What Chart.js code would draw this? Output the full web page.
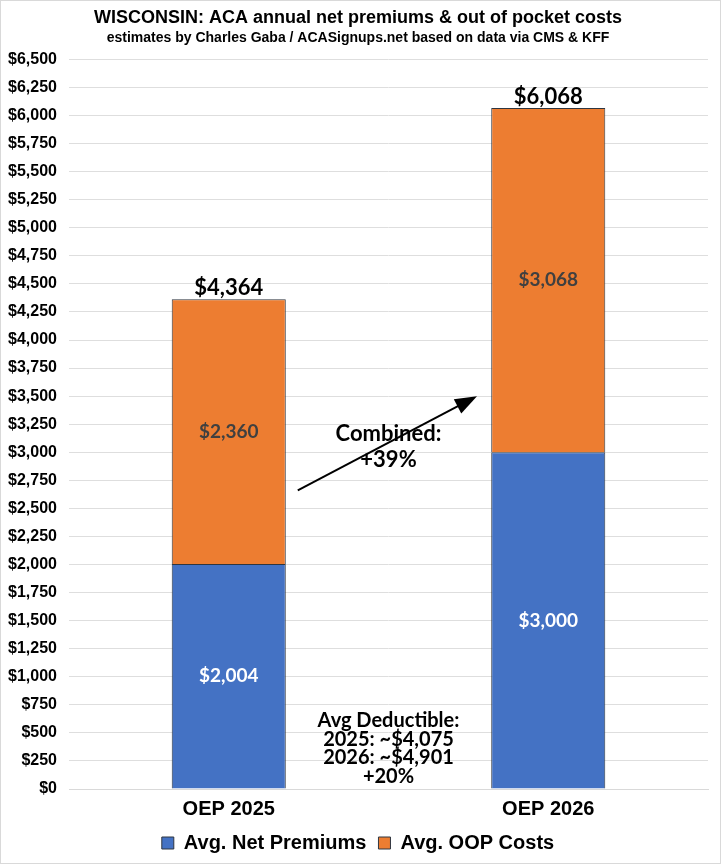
<!DOCTYPE html>
<html>
<head>
<meta charset="utf-8">
<script src="https://cdn.jsdelivr.net/npm/chart.js@4.4.1/dist/chart.umd.min.js"></script>
<style>
  html, body { margin: 0; padding: 0; background: #fff; }
  #wrap { width: 719px; height: 862px; border: 1px solid #d9d9d9; }
</style>
</head>
<body>
<div id="wrap"><canvas id="chart"></canvas></div>
<script>
const categories = ["OEP 2025", "OEP 2026"];
const netPremiums = [2004, 3000];
const oopCosts = [2360, 3068];
const totals = [4364, 6068];
const deductibleNote = ["Avg Deductible:", "2025: ~$4,075", "2026: ~$4,901", "+20%"];
const combinedNote = ["Combined:", "+39%"];

const narrow = "'Liberation Sans Narrow', 'Arial Narrow', 'Liberation Sans', sans-serif";
const labelFont = "Lato, 'Open Sans', sans-serif";

// Text on bars, totals, the arrow and the notes
const annotations = {
    id: "annotations",
    afterDatasetsDraw(chart) {
        const ctx = chart.ctx;
        const x = chart.scales.x;
        const y = chart.scales.y;
        ctx.save();
        ctx.textAlign = "center";
        ctx.textBaseline = "middle";

        chart.data.datasets.forEach((ds, di) => {
            const meta = chart.getDatasetMeta(di);
            meta.data.forEach((bar, i) => {
                const mid = (bar.y + bar.base) / 2;
                ctx.fillStyle = di === 0 ? "#ffffff" : "#404040";
                ctx.font = "bold 19px " + labelFont;
                ctx.fillText("$" + ds.data[i].toLocaleString("en-US"), bar.x, mid);
            });
        });

        // totals above each bar
        ctx.fillStyle = "#000";
        ctx.font = "bold 22px " + labelFont;
        totals.forEach((t, i) => {
            ctx.fillText("$" + t.toLocaleString("en-US"), x.getPixelForValue(i), y.getPixelForValue(t) - 11);
        });

        // arrow between bars
        const x0 = x.getPixelForValue(0.216), y0 = y.getPixelForValue(2660);
        const x1 = x.getPixelForValue(0.777), y1 = y.getPixelForValue(3500);
        const ang = Math.atan2(y1 - y0, x1 - x0);
        ctx.strokeStyle = "#000";
        ctx.lineWidth = 2;
        ctx.beginPath();
        ctx.moveTo(x0, y0);
        ctx.lineTo(x1 - 14 * Math.cos(ang), y1 - 14 * Math.sin(ang));
        ctx.stroke();
        ctx.beginPath();
        ctx.moveTo(x1, y1);
        ctx.lineTo(x1 - 22 * Math.cos(ang) + 8 * Math.sin(ang), y1 - 22 * Math.sin(ang) - 8 * Math.cos(ang));
        ctx.lineTo(x1 - 22 * Math.cos(ang) - 8 * Math.sin(ang), y1 - 22 * Math.sin(ang) + 8 * Math.cos(ang));
        ctx.closePath();
        ctx.fillStyle = "#000";
        ctx.fill();

        ctx.font = "bold 22px " + labelFont;
        const cx = x.getPixelForValue(0.5);
        combinedNote.forEach((line, k) => {
            ctx.fillText(line, cx, y.getPixelForValue(3162) + k * 26);
        });

        ctx.font = "bold 20px " + labelFont;
        deductibleNote.forEach((line, k) => {
            ctx.fillText(line, cx, y.getPixelForValue(612) + k * 18.8);
        });
        ctx.restore();
    }
};

new Chart(document.getElementById("chart"), {
    type: "bar",
    data: {
        labels: categories,
        datasets: [
            {
                label: "Avg. Net Premiums",
                data: netPremiums,
                backgroundColor: "#4472c4",
                borderColor: "#2f3640",
                borderWidth: 1,
                categoryPercentage: 1,
                barPercentage: 0.357
            },
            {
                label: "Avg. OOP Costs",
                data: oopCosts,
                backgroundColor: "#ed7d31",
                borderColor: "#2f3640",
                borderWidth: 1,
                categoryPercentage: 1,
                barPercentage: 0.357
            }
        ]
    },
    options: {
        responsive: true,
        maintainAspectRatio: false,
        animation: false,
        layout: { padding: { left: 7, right: 12, top: 2, bottom: 0 } },
        plugins: {
            title: {
                display: true,
                text: "WISCONSIN: ACA annual net premiums & out of pocket costs",
                color: "#000",
                font: { family: narrow, size: 18, weight: "bold" },
                padding: { top: 4, bottom: 1 }
            },
            subtitle: {
                display: true,
                text: "estimates by Charles Gaba / ACASignups.net based on data via CMS & KFF",
                color: "#000",
                font: { family: narrow, size: 14, weight: "bold" },
                padding: { bottom: 13 }
            },
            legend: {
                position: "bottom",
                labels: {
                    color: "#000",
                    font: { family: narrow, size: 20, weight: "bold" },
                    boxWidth: 12,
                    boxHeight: 12,
                    padding: 12
                }
            },
            tooltip: { enabled: false }
        },
        scales: {
            x: {
                stacked: true,
                grid: { display: false },
                border: { color: "#d9d9d9" },
                ticks: {
                    color: "#000",
                    font: { family: narrow, size: 20, weight: "bold" },
                    padding: 0
                }
            },
            y: {
                stacked: true,
                min: 0,
                max: 6500,
                afterFit: scale => { scale.width = 61; },
                grid: { color: "#dedede", drawTicks: false },
                border: { display: false },
                ticks: {
                    stepSize: 250,
                    color: "#000",
                    font: { family: narrow, size: 16, weight: "bold" },
                    padding: 12,
                    callback: v => "$" + v.toLocaleString("en-US")
                }
            }
        }
    },
    plugins: [annotations]
});
</script>
</body>
</html>
